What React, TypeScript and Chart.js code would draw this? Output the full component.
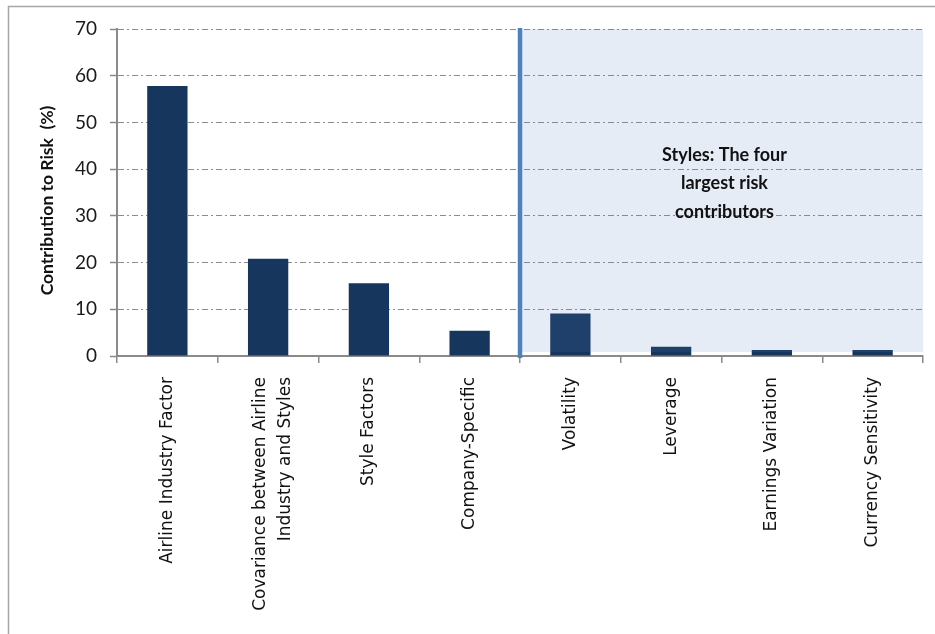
import React, { useEffect, useRef } from "react";
import { Chart, registerables } from "chart.js";

Chart.register(...registerables);

const categories: (string | string[])[] = [
  "Airline Industry Factor",
  ["Covariance between Airline", "Industry and Styles"],
  "Style Factors",
  "Company-Specific",
  "Volatility",
  "Leverage",
  "Earnings Variation",
  "Currency Sensitivity",
];
const riskContribution = [57.8, 20.8, 15.6, 5.4, 9.1, 2.0, 1.3, 1.3];
const yMin = 0;
const yMax = 70;
const yStep = 10;
const yTitle = "Contribution to Risk  (%)";
const shadeStartIndex = 4;
const annotationLines = ["Styles: The four", "largest risk", "contributors"];

const decor = {
  id: "decor",
  beforeDraw(chart: any) {
    const x = chart.scales.x;
    const items = x.getLabelItems(chart.chartArea) || [];
    items.forEach((it: any) => {
      if (Array.isArray(it.label) && it.label.length > 1 && !it._shifted && it.options && it.options.translation) {
        const lh = (it.font && it.font.lineHeight) || 25.5;
        it.options.translation[0] -= (it.label.length - 1) * lh * 0.3;
        it._shifted = true;
      }
    });
  },
  afterDatasetsDraw(chart: any) {
    const { ctx, chartArea, scales } = chart;
    const x = scales.x;
    const y = scales.y;
    const xs = (x.getPixelForValue(shadeStartIndex - 1) + x.getPixelForValue(shadeStartIndex)) / 2;
    const top = y.getPixelForValue(yMax);
    const bottom = y.getPixelForValue(yMin);
    ctx.save();
    ctx.fillStyle = "rgba(79,129,189,0.15)";
    ctx.fillRect(xs + 2, top, chartArea.right - xs - 2, bottom - 4 - top);
    ctx.strokeStyle = "#4f81bd";
    ctx.lineWidth = 4.5;
    ctx.beginPath();
    ctx.moveTo(xs, top - 1);
    ctx.lineTo(xs, bottom + 2);
    ctx.stroke();

    const cx = (xs + chartArea.right) / 2 + 3;
    ctx.fillStyle = "#111";
    ctx.font = "bold 18px Lato";
    ctx.textAlign = "center";
    ctx.textBaseline = "middle";
    annotationLines.forEach((l, i) => {
      ctx.fillText(l, cx, top + 126 + i * 28.5);
    });
    ctx.restore();
  },
  afterDraw(chart: any) {
    const { ctx, chartArea } = chart;
    ctx.save();
    ctx.strokeStyle = "#a6a6a6";
    ctx.lineWidth = 1.5;
    ctx.beginPath();
    ctx.moveTo(8, 6.5);
    ctx.lineTo(935, 6.5);
    ctx.moveTo(8.5, 6);
    ctx.lineTo(8.5, 634);
    ctx.stroke();

    ctx.translate(47, (chartArea.top + chartArea.bottom) / 2 + 8);
    ctx.rotate(-Math.PI / 2);
    ctx.fillStyle = "#111";
    ctx.font = "bold 17.5px Lato";
    ctx.textAlign = "center";
    ctx.textBaseline = "middle";
    ctx.fillText(yTitle, 0, 0);
    ctx.restore();
  },
};

export default function App() {
  const ref = useRef<HTMLCanvasElement | null>(null);
  useEffect(() => {
    if (!ref.current) return;
    const chart = new Chart(ref.current, {
      type: "bar",
      data: {
        labels: categories,
        datasets: [
          {
            data: riskContribution,
            backgroundColor: "#17365d",
            borderWidth: 0,
            categoryPercentage: 1,
            barPercentage: 0.4,
          },
        ],
      },
      options: {
        animation: false,
        responsive: false,
        devicePixelRatio: 1,
        layout: { padding: { left: 0, right: 12, top: 29, bottom: 0 } },
        plugins: { legend: { display: false }, tooltip: { enabled: false } },
        scales: {
          x: {
            afterFit(scale: any) {
              scale.height = 634 - 356;
            },
            border: { display: true, color: "#8a8a8a", width: 2 },
            grid: {
              offset: true,
              drawOnChartArea: false,
              drawTicks: true,
              tickLength: 7,
              color: "#8a8a8a",
              lineWidth: 1.5,
            },
            ticks: {
              maxRotation: 90,
              minRotation: 90,
              padding: 14,
              color: "#111",
              font: { family: "DejaVu Sans", size: 17, lineHeight: 1.5 },
              autoSkip: false,
            },
          },
          y: {
            min: yMin,
            max: yMax,
            afterFit(scale: any) {
              scale.width = 117;
            },
            border: { display: true, color: "#8a8a8a", width: 2, dash: [6, 3, 2, 3] },
            grid: {
              color: "#8c8c8c",
              lineWidth: 1,
              tickBorderDash: [],
              tickLength: 7,
              tickColor: "#8a8a8a",
              tickWidth: 1.5,
            },
            ticks: {
              stepSize: yStep,
              padding: 13,
              color: "#1a1a1a",
              font: { family: "Lato", size: 19 },
            },
          },
        },
      },
      plugins: [decor],
    });
    return () => chart.destroy();
  }, []);
  return (
    <div style={{ position: "fixed", left: 0, top: 0, width: 935, height: 634, background: "#fff" }}>
      <canvas ref={ref} width={935} height={634} style={{ display: "block" }} />
    </div>
  );
}
